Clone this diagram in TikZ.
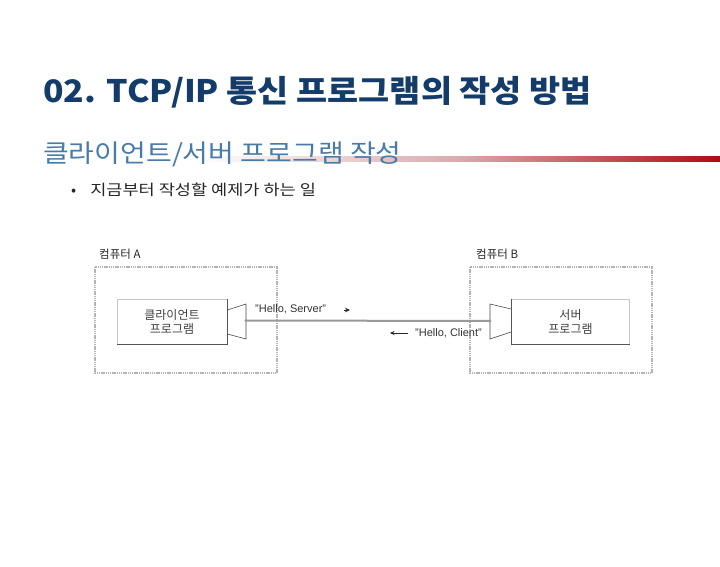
\documentclass[tikz,border=0pt]{standalone}
\usepackage{fontspec}
\setmainfont{Liberation Sans}
\newfontfamily\kr{Noto Sans CJK KR}
\usetikzlibrary{arrows.meta}
\definecolor{titleblue}{HTML}{143C6A}
\definecolor{subblue}{HTML}{4A7BA8}
\definecolor{barred}{HTML}{B00A14}
\definecolor{boxgray}{HTML}{B4B4B4}
\definecolor{edgegray}{HTML}{555555}
\definecolor{wiregray}{HTML}{9A9A9A}
\tikzset{
  compbox/.style={draw=boxgray, line width=2pt, dash pattern=on 1.4pt off 0.8pt},
  progbox/.style={draw=gray!45, line width=0.6pt, fill=white, minimum height=45pt, align=center, inner sep=0pt, font=\kr\fontsize{12}{14}\selectfont, text=black!75},
  plug/.style={draw=black!70, line width=0.6pt},
  wire/.style={draw=wiregray, line width=2pt},
  lbl/.style={font=\kr\fontsize{11.5}{13}\selectfont, text=black!85, inner sep=0pt},
  msg/.style={font=\fontsize{11}{13}\selectfont, text=black!80, inner sep=0pt},
}
\begin{document}
\begin{tikzpicture}[x=1pt,y=-1pt]
\useasboundingbox (0,0) rectangle (720,567);
\fill[white] (0,0) rectangle (720,567);
% title
\node[anchor=west, inner sep=0pt, text=titleblue, font=\kr\bfseries\fontsize{31}{34}\selectfont] (title) at (43,92) {\scalebox{1.09}[1]{02. TCP/IP 통신 프로그램의 작성 방법}};
% gradient bar
\shade[left color=white, right color=barred, middle color=gray!30!barred!40] (195,156) rectangle (720,161);
\node[anchor=west, inner sep=0pt, text=subblue, font=\kr\fontsize{25}{28}\selectfont] (sub) at (43,154) {\scalebox{1.12}[1]{클라이언트/서버 프로그램 작성}};
% bullet
\node[anchor=west, inner sep=0pt, text=black!85, font=\kr\fontsize{15}{17}\selectfont] (bul) at (71,190) {•\hspace{14pt}\scalebox{1.17}[1]{지금부터 작성할 예제가 하는 일}};
% computer boxes
\draw[compbox] (95,267) rectangle (277,373);
\draw[compbox] (470,267) rectangle (652,373);
\node[lbl, anchor=south west] (la) at (99,260) {컴퓨터 A};
\node[lbl, anchor=south west] (lb) at (476,260) {컴퓨터 B};
% program boxes
\node[progbox, minimum width=110pt] (client) at (172,321.5) {클라이언트\\프로그램};
\node[progbox, minimum width=118pt] (server) at (570.5,321.5) {서버\\프로그램};
\draw[edgegray, line width=0.8pt] (client.north east) -- (client.south east) -- (client.south west);
\draw[edgegray, line width=0.8pt] (server.north west) -- (server.south west) -- (server.south east);
% plugs
\coordinate (pa) at (246,320.5);
\coordinate (pb) at (490,321);
\draw[plug] (client.east |- 0,310) -- (246,304) -- (246,339) -- (client.east |- 0,334);
\draw[plug] (server.west |- 0,309) -- (490,304) -- (490,339) -- (server.west |- 0,332);
% wire
\draw[wire] (pa) -- (pb);
\fill[gray!80] (pa) circle (1.6pt) (pb) circle (1.6pt);
% messages
\node[msg, anchor=west] (m1) at (255,309) {"Hello, Server"};
\coordinate (a1s) at (344,310);
\coordinate (a1e) at (350,310);
\draw[-{Stealth[length=5pt,width=4.5pt]}, black!85, line width=0.8pt] (a1s) -- (a1e);
\node[msg, anchor=west] (m2) at (415,333) {"Hello, Client"};
\coordinate (a2s) at (408,333);
\coordinate (a2e) at (390,333);
\draw[-{Stealth[length=4.5pt,width=4pt]}, black!85, line width=0.7pt] (a2s) -- (a2e);
\end{tikzpicture}
\end{document}
